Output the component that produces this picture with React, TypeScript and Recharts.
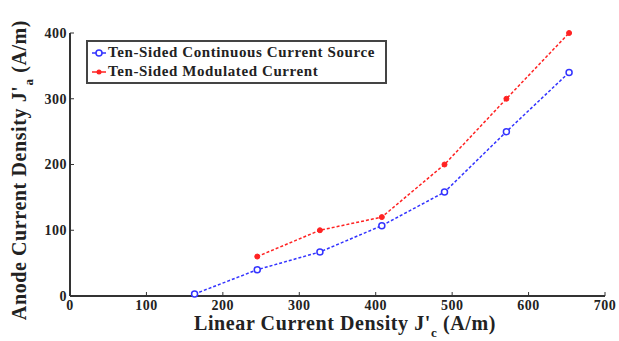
import React from 'react';
import { LineChart, Line, XAxis, YAxis } from 'recharts';

const blueX = [163, 245, 327, 408, 490, 571, 653];
const blueY = [3, 40, 67, 107, 158, 250, 340];
const redX = [245, 327, 408, 490, 571, 653];
const redY = [60, 100, 120, 200, 300, 400];
const xTicks = [0, 100, 200, 300, 400, 500, 600, 700];
const yTicks = [0, 100, 200, 300, 400];

const blueData = blueX.map((x, i) => ({ x, y: blueY[i] }));
const redData = redX.map((x, i) => ({ x, y: redY[i] }));

const FONT = "'Times New Roman', 'Liberation Serif', 'DejaVu Serif', serif";
const AXIS = '#333';

const tickStyle = { fill: '#222', fontSize: 14, fontWeight: 700, fontFamily: FONT, letterSpacing: 0.5 };

const LegendBox = () => (
  <div
    style={{
      position: 'absolute',
      left: 86,
      top: 40,
      width: 301,
      height: 44,
      border: '2px solid #444',
      background: '#fff',
      fontFamily: FONT,
      fontWeight: 700,
      fontSize: 15,
      letterSpacing: 0.6,
      color: '#222',
      boxSizing: 'border-box',
      padding: '1px 0 0 4px',
      lineHeight: '19px',
    }}
  >
    <div style={{ display: 'flex', alignItems: 'center' }}>
      <svg width={14} height={10} style={{ marginRight: 2 }}>
        <line x1={0} y1={5} x2={14} y2={5} stroke="#3333ff" strokeWidth={1.5} />
        <circle cx={7} cy={5} r={3} fill="#fff" stroke="#3333ff" strokeWidth={1.5} />
      </svg>
      Ten-Sided Continuous Current Source
    </div>
    <div style={{ display: 'flex', alignItems: 'center' }}>
      <svg width={14} height={10} style={{ marginRight: 2 }}>
        <line x1={0} y1={5} x2={14} y2={5} stroke="#ff2222" strokeWidth={1.5} />
        <circle cx={7} cy={5} r={2.5} fill="#ff2222" />
      </svg>
      Ten-Sided Modulated Current
    </div>
  </div>
);

const YLabel = () => (
  <text
    transform="translate(26,170) rotate(-90)"
    textAnchor="middle"
    fontFamily={FONT}
    fontWeight={700}
    fontSize={20}
    letterSpacing={0.6}
    fill="#222"
  >
    Anode Current Density J'
    <tspan dy={7} fontSize={13}>a</tspan>
    <tspan dy={-7}> (A/m)</tspan>
  </text>
);

const XLabel = () => (
  <text
    x={345}
    y={330}
    textAnchor="middle"
    fontFamily={FONT}
    fontWeight={700}
    fontSize={20}
    letterSpacing={0.6}
    fill="#222"
  >
    Linear Current Density J'
    <tspan dy={7} fontSize={13}>c</tspan>
    <tspan dy={-7}> (A/m)</tspan>
  </text>
);

export default function App() {
  return (
    <div
      style={{
        position: 'absolute',
        left: 0,
        top: 0,
        width: 619,
        height: 341,
        background: '#fff',
        fontFamily: FONT,
      }}
    >
      <LineChart width={619} height={341} margin={{ top: 33, right: 14, bottom: 0, left: 40 }}>
        <XAxis
          xAxisId="b"
          dataKey="x"
          type="number"
          domain={[0, 700]}
          ticks={xTicks}
          axisLine={{ stroke: AXIS, strokeWidth: 2 }}
          tickLine={{ stroke: AXIS }}
          tickSize={-4}
          tickMargin={8}
          tick={tickStyle}
          height={45}
          allowDataOverflow
        />
        <XAxis
          xAxisId="t"
          orientation="top"
          dataKey="x"
          type="number"
          domain={[0, 700]}
          ticks={xTicks}
          axisLine={{ stroke: AXIS, strokeWidth: 1.5 }}
          tickLine={{ stroke: AXIS }}
          tickSize={-4}
          tick={false}
          height={0}
        />
        <YAxis
          yAxisId="l"
          type="number"
          domain={[0, 400]}
          ticks={yTicks}
          axisLine={{ stroke: AXIS, strokeWidth: 2 }}
          tickLine={{ stroke: AXIS }}
          tickSize={-4}
          tickMargin={7}
          tick={tickStyle}
          width={30}
        />
        <YAxis
          yAxisId="r"
          orientation="right"
          type="number"
          domain={[0, 400]}
          ticks={yTicks}
          axisLine={{ stroke: AXIS, strokeWidth: 1.5 }}
          tickLine={{ stroke: AXIS }}
          tickSize={-4}
          tick={false}
          width={0}
        />
        <Line
          xAxisId="b"
          yAxisId="l"
          data={blueData}
          dataKey="y"
          stroke="#3333ff"
          strokeWidth={1.5}
          strokeDasharray="3 2"
          dot={{ r: 3, fill: '#fff', stroke: '#3333ff', strokeWidth: 1.5, strokeDasharray: '' }}
          isAnimationActive={false}
        />
        <Line
          xAxisId="b"
          yAxisId="l"
          data={redData}
          dataKey="y"
          stroke="#ff2222"
          strokeWidth={1.5}
          strokeDasharray="3 2"
          dot={{ r: 2.5, fill: '#ff2222', stroke: '#ff2222', strokeWidth: 1, strokeDasharray: '' }}
          isAnimationActive={false}
        />
        <YLabel />
        <XLabel />
      </LineChart>
      <LegendBox />
    </div>
  );
}
